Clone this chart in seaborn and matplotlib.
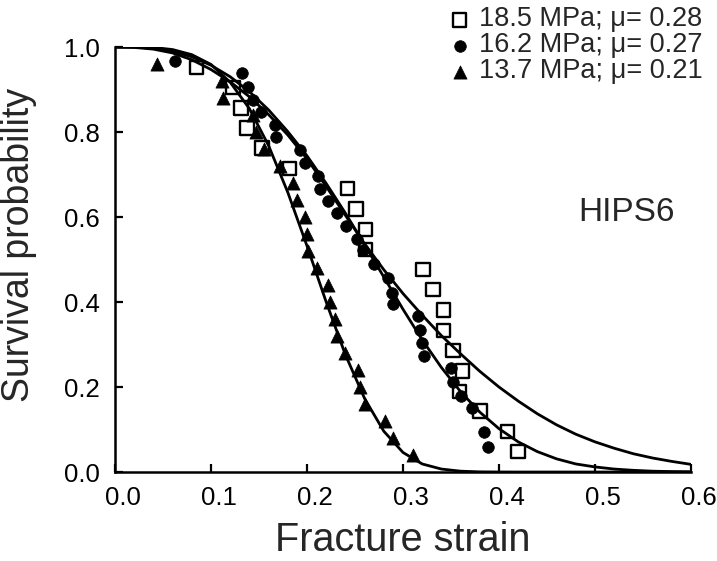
import numpy as np
import pandas as pd
import matplotlib
matplotlib.use("Agg")
import matplotlib.pyplot as plt
import matplotlib.transforms as mtransforms
import seaborn as sns

sq_x = [0.085, 0.123, 0.131, 0.1375, 0.153, 0.182, 0.242, 0.251, 0.261, 0.261,
        0.321, 0.331, 0.342, 0.342, 0.352, 0.362, 0.359, 0.380, 0.409, 0.420]
sq_y = [0.952, 0.905, 0.857, 0.810, 0.762, 0.714, 0.667, 0.619, 0.571, 0.524,
        0.476, 0.429, 0.381, 0.333, 0.286, 0.238, 0.190, 0.143, 0.095, 0.048]

ci_x = [0.062, 0.132, 0.139, 0.144, 0.152, 0.167, 0.168, 0.193, 0.198, 0.211,
        0.214, 0.222, 0.231, 0.241, 0.252, 0.258, 0.270, 0.284, 0.289, 0.290,
        0.316, 0.318, 0.320, 0.322, 0.350, 0.352, 0.360, 0.372, 0.384, 0.389]
ci_y = [0.967, 0.939, 0.906, 0.876, 0.846, 0.816, 0.788, 0.758, 0.727, 0.697,
        0.666, 0.638, 0.609, 0.578, 0.548, 0.522, 0.490, 0.456, 0.421, 0.395,
        0.367, 0.334, 0.304, 0.273, 0.245, 0.212, 0.180, 0.150, 0.094, 0.059]

tr_x = [0.044, 0.111, 0.113, 0.144, 0.147, 0.155, 0.172, 0.185, 0.190, 0.198,
        0.200, 0.201, 0.210, 0.222, 0.224, 0.229, 0.231, 0.240, 0.253, 0.255,
        0.260, 0.281, 0.290, 0.310]
tr_y = [0.960, 0.920, 0.880, 0.840, 0.800, 0.760, 0.720, 0.680, 0.640, 0.600,
        0.560, 0.520, 0.480, 0.440, 0.400, 0.360, 0.320, 0.280, 0.240, 0.200,
        0.160, 0.120, 0.080, 0.040]

# fitted curves
fit_x = [0.00, 0.02, 0.04, 0.06, 0.08, 0.10, 0.12, 0.14, 0.16, 0.18, 0.20,
         0.22, 0.24, 0.26, 0.28, 0.30, 0.32, 0.34, 0.36, 0.38, 0.40,
         0.42, 0.44, 0.46, 0.48, 0.50, 0.52, 0.54, 0.56, 0.58, 0.60]
fit_sq = [1.000, 0.999, 0.995, 0.986, 0.970, 0.947, 0.918, 0.883, 0.841, 0.793, 0.737,
          0.672, 0.604, 0.537, 0.476, 0.420, 0.369, 0.321, 0.278, 0.237, 0.200,
          0.167, 0.137, 0.111, 0.089, 0.071, 0.056, 0.043, 0.033, 0.025, 0.018]
fit_ci = [1.000, 1.000, 0.997, 0.990, 0.977, 0.957, 0.930, 0.895, 0.852, 0.801, 0.744,
          0.679, 0.609, 0.535, 0.459, 0.383, 0.311, 0.246, 0.189, 0.141, 0.102,
          0.071, 0.048, 0.031, 0.019, 0.012, 0.007, 0.004, 0.002, 0.001, 0.0005]
fit_tr = [1.000, 1.000, 0.999, 0.994, 0.982, 0.959, 0.917, 0.855, 0.768, 0.658, 0.532,
          0.400, 0.276, 0.173, 0.096, 0.046, 0.019, 0.007, 0.002, 0.0004, 0.0001,
          0.0, 0.0, 0.0, 0.0, 0.0, 0.0, 0.0, 0.0, 0.0, 0.0]

labels = ["18.5 MPa; \u03bc= 0.28", "16.2 MPa; \u03bc= 0.27", "13.7 MPa; \u03bc= 0.21"]

sns.set_style("ticks")
plt.rcParams['font.family'] = ['Liberation Sans', 'DejaVu Sans']

fig = plt.figure(figsize=(7.17, 5.61), dpi=100)
ax = fig.add_axes([0.1604, 0.1586, 0.8033, 0.7576])

for fy in [fit_sq, fit_ci, fit_tr]:
    sns.lineplot(x=fit_x, y=fy, ax=ax, color="black", lw=2.0, legend=False)

sns.scatterplot(x=sq_x, y=sq_y, ax=ax, marker="s", s=95, facecolors="none",
                edgecolor="black", linewidth=1.7, label=labels[0], zorder=3)
sns.scatterplot(x=ci_x, y=ci_y, ax=ax, marker="o", s=70, color="black",
                edgecolor="black", linewidth=0.5, label=labels[1], zorder=3)
sns.scatterplot(x=tr_x, y=tr_y, ax=ax, marker="^", s=90, color="black",
                edgecolor="black", linewidth=0.5, label=labels[2], zorder=3)

ax.set_xlim(0, 0.6)
ax.set_ylim(0, 1.0)
ax.set_xticks([0.0, 0.1, 0.2, 0.3, 0.4, 0.5, 0.6])
ax.set_yticks([0.0, 0.2, 0.4, 0.6, 0.8, 1.0])
ax.xaxis.set_major_formatter(matplotlib.ticker.FormatStrFormatter('%.1f'))
ax.yaxis.set_major_formatter(matplotlib.ticker.FormatStrFormatter('%.1f'))
ax.tick_params(direction="in", length=6, width=1.6, labelsize=18.5, colors="black")
ax.tick_params(axis="x", pad=10)
ax.tick_params(axis="y", pad=11)
shift = mtransforms.ScaledTranslation(0.08, 0, fig.dpi_scale_trans)
for lab in ax.get_xticklabels():
    lab.set_transform(lab.get_transform() + shift)
sns.despine(ax=ax)
for s in ["left", "bottom"]:
    ax.spines[s].set_linewidth(1.8)
    ax.spines[s].set_color("black")

ax.set_xlabel("Fracture strain", fontsize=28.5, labelpad=8)
ax.set_ylabel("Survival probability", fontsize=27)
ax.yaxis.set_label_coords(-0.135, 0.535)
ax.text(0.533, 0.61, "HIPS6", fontsize=24, ha="center", va="center")

ax.legend(loc="upper left", bbox_to_anchor=(436 / 717, 1 + 8 / 561),
          bbox_transform=fig.transFigure, frameon=False, fontsize=19.5,
          handlelength=0.75, handleheight=0.5, handletextpad=0.32,
          labelspacing=0.0, borderpad=0)

fig.savefig("out.png", dpi=100)
